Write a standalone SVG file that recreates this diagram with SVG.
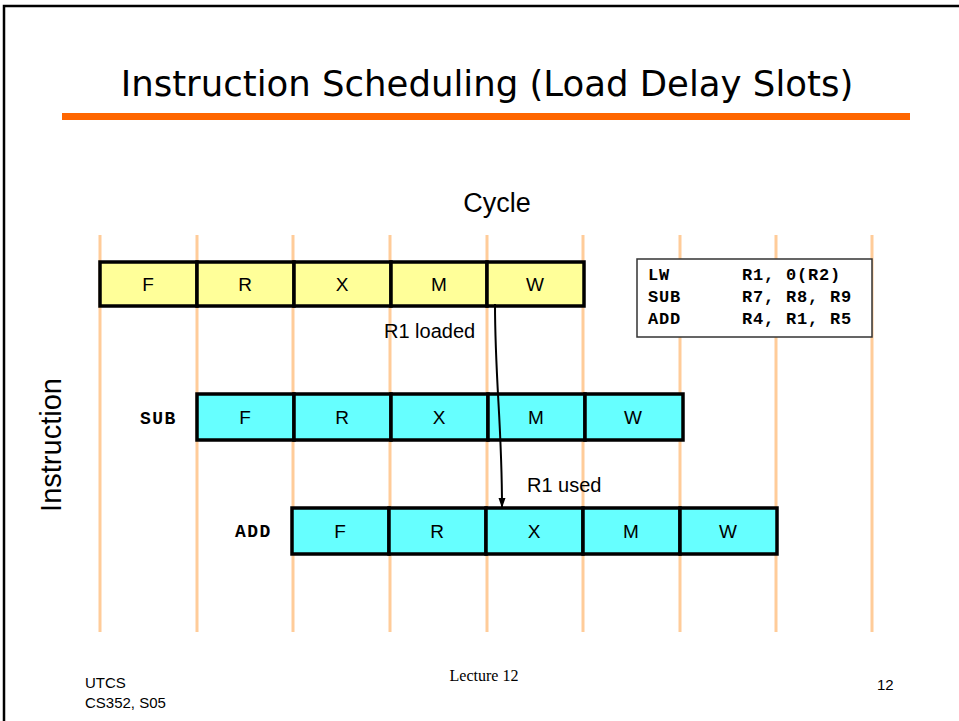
<svg xmlns="http://www.w3.org/2000/svg" width="959" height="721" viewBox="0 0 959 721">
<style>
.grid{stroke:#FFCC99;stroke-width:3}
.y{fill:#FFFF99;stroke:#000;stroke-width:3.5}
.c{fill:#66FFFF;stroke:#000;stroke-width:3.5}
.cell{font-family:"Liberation Sans",Arial,sans-serif;font-size:19px;text-anchor:middle;fill:#000}
.lab{font-family:"Liberation Sans",Arial,sans-serif;font-size:20px;fill:#000}
.mono{font-family:"Liberation Mono","Courier New",monospace;font-weight:bold;font-size:17px;letter-spacing:0.8px;fill:#000}
.rl{font-family:"Liberation Mono","Courier New",monospace;font-weight:bold;font-size:18px;letter-spacing:1.5px;fill:#000}
.foot{font-family:"Liberation Sans Narrow","Arial Narrow","Liberation Sans",sans-serif;font-size:15px;fill:#000}
</style>
<defs>
<marker id="ah" markerWidth="10" markerHeight="10" refX="9" refY="5" orient="auto" markerUnits="userSpaceOnUse">
<path d="M0,1.5 L10,5 L0,8.5 Z" fill="#000"/>
</marker>
</defs>
<rect width="959" height="721" fill="#fff"/>
<path d="M4,721 V6 H959" fill="none" stroke="#000" stroke-width="2.5"/>
<text x="487" y="96" font-family="'Comic Sans MS','DejaVu Sans',sans-serif" font-size="35.5" text-anchor="middle">Instruction Scheduling (Load Delay Slots)</text>
<rect x="62" y="113" width="848" height="7" fill="#FF6600"/>
<g id="grid">
<line class="grid" x1="100" y1="235" x2="100" y2="632"/>
<line class="grid" x1="197" y1="235" x2="197" y2="632"/>
<line class="grid" x1="293" y1="235" x2="293" y2="632"/>
<line class="grid" x1="390" y1="235" x2="390" y2="632"/>
<line class="grid" x1="487" y1="235" x2="487" y2="632"/>
<line class="grid" x1="583" y1="235" x2="583" y2="632"/>
<line class="grid" x1="680" y1="235" x2="680" y2="632"/>
<line class="grid" x1="776" y1="235" x2="776" y2="632"/>
<line class="grid" x1="872" y1="235" x2="872" y2="632"/>
</g>
<text x="497" y="212" font-family="'Liberation Sans',Arial,sans-serif" font-size="27" text-anchor="middle">Cycle</text>
<text transform="translate(61,445) rotate(-90)" font-family="'Liberation Sans',Arial,sans-serif" font-size="29" text-anchor="middle">Instruction</text>
<g id="lw">
<rect class="y" x="100" y="262" width="97" height="44"/>
<rect class="y" x="197" y="262" width="97" height="44"/>
<rect class="y" x="294" y="262" width="97" height="44"/>
<rect class="y" x="391" y="262" width="96" height="44"/>
<rect class="y" x="487" y="262" width="97" height="44"/>
<text class="cell" x="148" y="291">F</text>
<text class="cell" x="245" y="291">R</text>
<text class="cell" x="342" y="291">X</text>
<text class="cell" x="439" y="291">M</text>
<text class="cell" x="535" y="291">W</text>
</g>
<g id="sub">
<text class="rl" x="140" y="424">SUB</text>
<rect class="c" x="197" y="394" width="97" height="46"/>
<rect class="c" x="294" y="394" width="97" height="46"/>
<rect class="c" x="391" y="394" width="97" height="46"/>
<rect class="c" x="488" y="394" width="97" height="46"/>
<rect class="c" x="585" y="394" width="98" height="46"/>
<text class="cell" x="245" y="424">F</text>
<text class="cell" x="342" y="424">R</text>
<text class="cell" x="439" y="424">X</text>
<text class="cell" x="536" y="424">M</text>
<text class="cell" x="633" y="424">W</text>
</g>
<g id="add">
<text class="rl" x="235" y="537">ADD</text>
<rect class="c" x="292" y="508" width="97" height="46"/>
<rect class="c" x="389" y="508" width="97" height="46"/>
<rect class="c" x="486" y="508" width="97" height="46"/>
<rect class="c" x="583" y="508" width="97" height="46"/>
<rect class="c" x="680" y="508" width="97" height="46"/>
<text class="cell" x="340" y="538">F</text>
<text class="cell" x="437" y="538">R</text>
<text class="cell" x="534" y="538">X</text>
<text class="cell" x="631" y="538">M</text>
<text class="cell" x="728" y="538">W</text>
</g>
<g id="code">
<rect x="637" y="259" width="235" height="78" fill="#fff" stroke="#333" stroke-width="1.5"/>
<text class="mono" x="648" y="280">LW</text>
<text class="mono" x="742" y="280">R1, 0(R2)</text>
<text class="mono" x="648" y="302">SUB</text>
<text class="mono" x="742" y="302">R7, R8, R9</text>
<text class="mono" x="648" y="324">ADD</text>
<text class="mono" x="742" y="324">R4, R1, R5</text>
</g>
<g id="connectors">
<path d="M495,304 C495,380 502,425 502,507" fill="none" stroke="#000" stroke-width="2" marker-end="url(#ah)"/>
</g>
<text class="lab" x="384" y="338">R1 loaded</text>
<text class="lab" x="527" y="492">R1 used</text>
<text class="foot" x="85" y="688">UTCS</text>
<text class="foot" x="85" y="708">CS352, S05</text>
<text x="484" y="681" font-family="'Liberation Serif','Times New Roman',serif" font-size="16" text-anchor="middle">Lecture 12</text>
<text class="foot" x="877" y="690">12</text>
</svg>
